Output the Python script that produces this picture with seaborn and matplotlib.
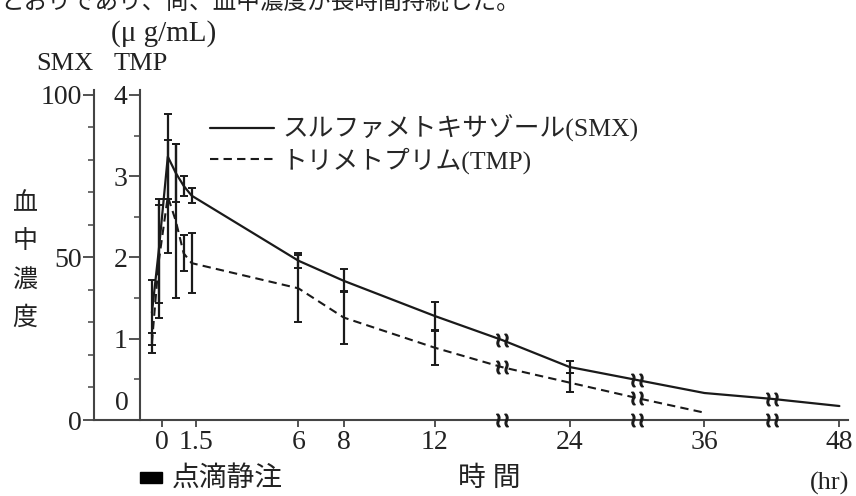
import numpy as np
import pandas as pd
import seaborn as sns
import matplotlib.pyplot as plt
from matplotlib.lines import Line2D
from matplotlib.patches import Rectangle
from matplotlib.font_manager import FontProperties

# blood levels after drip infusion (hours, SMX ug/mL, TMP ug/mL)
hours = [-0.45, -0.15, 0.25, 0.6, 0.95, 1.3, 6, 8, 12, 18, 24, 30, 36, 42, 48]
smx = [33, 52, 81, 76, 72, 69, 49, 42.8, 32, 24.6, 16.3, 12.3, 8.3, 6.5, 4.3]
smx_sd = [10, 16, 13, 9, 3, 2.3, 2.4, 3.5, 4.2, np.nan, 1.8, np.nan, np.nan, np.nan, np.nan]

tmp_hours = [-0.45, -0.15, 0.25, 0.6, 0.95, 1.3, 6, 8, 12, 18, 24, 30, 36]
tmp = [0.95, 1.95, 2.75, 2.45, 2.05, 1.93, 1.62, 1.26, 0.89, 0.65, 0.46, 0.27, 0.09]
tmp_sd = [0.12, 0.7, 0.69, 0.95, 0.22, 0.37, 0.41, 0.33, 0.21, np.nan, 0.12, np.nan, np.nan]

break_hours = [18, 30, 42]
xtick_hours = [0, 1.5, 6, 8, 12, 24, 36, 48]
xtick_labels = ['0', '1.5', '6', '8', '12', '24', '36', '48']

smx_df = pd.DataFrame({'hours': hours, 'smx': smx, 'sd': smx_sd})
tmp_df = pd.DataFrame({'hours': tmp_hours, 'tmp': tmp, 'sd': tmp_sd})

sns.set_style('ticks')
plt.rcParams['font.family'] = ['Liberation Serif', 'Noto Sans CJK JP']
plt.rcParams['axes.linewidth'] = 1.5

INK = '#1a1a1a'
AX = '#444444'


# time axis is squeezed to half after 12 hr
def fwd(t):
    t = np.asarray(t, float)
    return np.where(t <= 12, t, 12 + (t - 12) * 0.495)


def inv(u):
    u = np.asarray(u, float)
    return np.where(u <= 12, u, 12 + (u - 12) / 0.495)


fig = plt.figure(figsize=(8.56, 4.96), dpi=100)
ax = fig.add_axes([94 / 856, 76 / 496, 754 / 856, 330 / 496])
ax.set_xscale('function', functions=(fwd, inv))
ax2 = ax.twinx()

sns.lineplot(data=smx_df, x='hours', y='smx', ax=ax, color=INK, lw=1.6)
sns.lineplot(data=tmp_df, x='hours', y='tmp', ax=ax2, color=INK, lw=1.5,
             linestyle=(0, (4, 2.5)))

m = smx_df['sd'].notna()
ax.errorbar(smx_df['hours'][m], smx_df['smx'][m], yerr=smx_df['sd'][m], fmt='none',
            ecolor=INK, elinewidth=1.6, capsize=3, capthick=1.4)
m = tmp_df['sd'].notna()
ax2.errorbar(tmp_df['hours'][m], tmp_df['tmp'][m], yerr=tmp_df['sd'][m], fmt='none',
             ecolor=INK, elinewidth=1.6, capsize=3, capthick=1.4)

# break marks on the lines and on the time axis
brk = r'$\wr\!\wr$'
smx_at = smx_df.set_index('hours')['smx']
tmp_at = tmp_df.set_index('hours')['tmp']
ax.plot(break_hours, [smx_at[h] for h in break_hours], ls='none', marker=brk,
        ms=9, color=INK)
ax2.plot([h for h in break_hours if h in tmp_at.index],
         [tmp_at[h] for h in break_hours if h in tmp_at.index],
         ls='none', marker=brk, ms=9, color=INK)
ax.plot(break_hours, [0] * len(break_hours), ls='none', marker=brk, ms=9,
        color=INK, clip_on=False, zorder=5)

ax.set_xlim(-3.0, float(inv(30.2)))
ax.set_ylim(0, 101.5)
ax2.set_ylim(0, 4.06)

ax.set_xticks(xtick_hours)
ax.set_xticklabels(xtick_labels)
ax.xaxis.set_minor_locator(plt.NullLocator())
ax.set_yticks([0, 50, 100])
ax.set_yticks(np.arange(0, 101, 10), minor=True)
ax2.set_yticks([0, 1, 2, 3, 4])
ax2.set_yticklabels(['', '1', '2', '3', '4'])
ax2.set_yticks(np.arange(0, 4.01, 0.5), minor=True)
ax.set_xlabel('')
ax.set_ylabel('')
ax2.set_ylabel('')

for a in (ax, ax2):
    a.spines['top'].set_visible(False)
    a.spines['right'].set_visible(False)
    for s in a.spines.values():
        s.set_color(AX)
ax2.spines['bottom'].set_visible(False)
ax2.spines['left'].set_position(('axes', 46 / 754))
ax2.yaxis.tick_left()

ax.tick_params(axis='x', direction='out', length=5, width=1.3, color=AX,
               labelsize=20, pad=2, labelcolor='#222')
ax.tick_params(axis='y', which='major', direction='out', length=8, width=1.3,
               color=AX, labelsize=20, pad=1, labelcolor='#222')
ax.tick_params(axis='y', which='minor', direction='out', length=4, width=1.1, color=AX)
ax2.tick_params(axis='y', which='major', direction='out', length=8, width=1.3,
                color=AX, labelsize=20, pad=1, labelcolor='#222', left=True, right=False)
ax2.tick_params(axis='y', which='minor', direction='out', length=4, width=1.1,
                color=AX, left=True, right=False)

jp = FontProperties(family=['Liberation Serif', 'Noto Sans CJK JP'], size=18.5)
handles = [Line2D([], [], color=INK, lw=1.6),
           Line2D([], [], color=INK, lw=1.5, linestyle=(0, (4, 2.5)))]
ax2.legend(handles, ['スルファメトキサゾール(SMX)', 'トリメトプリム(TMP)'],
           loc='upper left', bbox_to_anchor=(116 / 754, 0.925), frameon=False,
           prop=jp, handlelength=2.5, handletextpad=0.3, labelspacing=0.2,
           borderpad=0, borderaxespad=0)

# texts around the plot
txt = dict(color='#222')
fig.text(0.0, 1 - 14 / 496, 'とおりであり、尚、血中濃度が長時間持続した。', fontsize=17,
         ha='left', va='bottom', **txt)
fig.text(164 / 856, 1 - 34 / 496, '(μ g/mL)', fontsize=21, ha='center', va='center', **txt)
fig.text(65 / 856, 1 - 64 / 496, 'SMX', fontsize=19, ha='center', va='center', **txt)
fig.text(141 / 856, 1 - 64 / 496, 'TMP', fontsize=19, ha='center', va='center', **txt)
fig.text(122 / 856, 1 - 403 / 496, '0', fontsize=20, ha='center', va='center', **txt)
for ch, yp in zip('血中濃度', [204, 242, 280, 318]):
    fig.text(25 / 856, 1 - yp / 496, ch, fontsize=18, ha='center', va='center', **txt)
fig.add_artist(Rectangle((140 / 856, 1 - 483 / 496), 22 / 856, 11 / 496,
                         transform=fig.transFigure, color='black'))
fig.text(172 / 856, 1 - 479 / 496, '点滴静注', fontsize=20, ha='left', va='center', **txt)
fig.text(489 / 856, 1 - 479 / 496, '時 間', fontsize=20, ha='center', va='center', **txt)
fig.text(830 / 856, 1 - 483 / 496, '(hr)', fontsize=19, ha='center', va='center', **txt)

fig.savefig('out.png', dpi=100)
